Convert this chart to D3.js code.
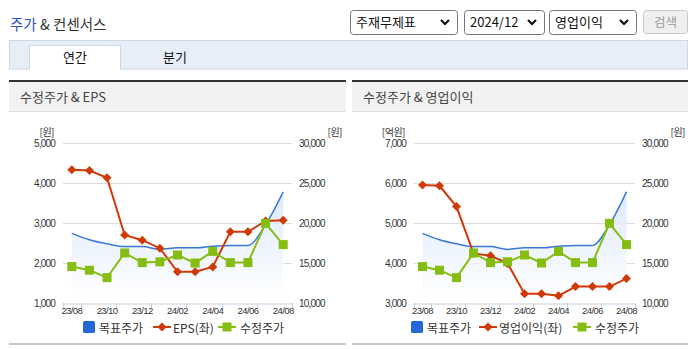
<!DOCTYPE html>
<html>
<head>
<meta charset="utf-8">
<script src="https://cdn.jsdelivr.net/npm/d3@7"></script>
<style>
  html, body { margin: 0; padding: 0; background: #fff; }
  svg { display: block; }
  text { font-family: "Noto Sans CJK KR", "Noto Sans", sans-serif; }
  .num { font-family: "Liberation Sans", Arial, sans-serif; }
</style>
</head>
<body>
<svg id="page" width="695" height="349"></svg>
<script>
// Monthly categories shown on both charts
const months = ["23/08","23/09","23/10","23/11","23/12","24/01","24/02","24/03","24/04","24/05","24/06","24/07","24/08"];
const monthLabels = ["23/08","23/10","23/12","24/02","24/04","24/06","24/08"];

// Series (원 / 억원)
const targetPrice = [18700, 17900, 17400, 17050, 17050, 16700, 16900, 16900, 17100, 17200, 17200, 19800, 23900];
const adjPrice    = [14550, 14100, 13170, 16250, 15050, 15150, 16000, 15000, 16450, 15050, 15050, 19950, 17300];
const eps         = [4330, 4310, 4130, 2700, 2570, 2370, 1780, 1780, 1900, 2780, 2780, 3050, 3070];
const opIncome    = [5950, 5930, 5410, 4240, 4180, 3990, 3230, 3230, 3180, 3410, 3410, 3410, 3610];

// Axis ticks
const priceTicks  = [10000, 15000, 20000, 25000, 30000];
const epsTicks    = [1000, 2000, 3000, 4000, 5000];
const opTicks     = [3000, 4000, 5000, 6000, 7000];

// Page controls
const selectLabels = ["주재무제표", "2024/12", "영업이익"];
const tabLabels = ["연간", "분기"];

const C = {
  blue: "#3a78d8", blueLegend: "#2467d6",
  red: "#cf3a08", green: "#86bd12",
  grid: "#dcdcdc", axis: "#c4cfdc", text: "#333"
};

const svg = d3.select("#page");
svg.append("rect").attr("width", 695).attr("height", 349).attr("fill", "#fff");

const defs = svg.append("defs");
const grad = defs.append("linearGradient").attr("id", "areaGrad")
  .attr("x1", 0).attr("y1", 0).attr("x2", 0).attr("y2", 1);
grad.append("stop").attr("offset", "0%").attr("stop-color", "#d9e7fa");
grad.append("stop").attr("offset", "100%").attr("stop-color", "#ffffff");

// ---- page title ----
const title = svg.append("text").attr("x", 10).attr("y", 30).attr("font-size", 14.5);
title.append("tspan").attr("fill", "#2d55c4").text("주가");
title.append("tspan").attr("fill", "#333").text(" & 컨센서스");

// ---- select boxes + button ----
const selects = [[350, 107], [464, 80], [549, 87]];
selects.forEach(([x, w], i) => {
  const g = svg.append("g").attr("transform", `translate(${x},10)`);
  g.append("rect").attr("x", 0.5).attr("y", 0.5).attr("width", w).attr("height", 24)
    .attr("rx", 3).attr("fill", "#fff").attr("stroke", "#777");
  g.append("text").attr("x", 6).attr("y", 17).attr("font-size", 13).attr("fill", "#111")
    .text(selectLabels[i]);
  g.append("path").attr("d", `M${w - 16},10 l4,4 l4,-4`).attr("fill", "none")
    .attr("stroke", "#111").attr("stroke-width", 2.2);
});
svg.append("rect").attr("x", 643.5).attr("y", 10.5).attr("width", 44).attr("height", 23)
  .attr("rx", 3).attr("fill", "#efefef").attr("stroke", "#c8c8c8");
svg.append("text").attr("x", 665.5).attr("y", 27).attr("text-anchor", "middle")
  .attr("font-size", 12.5).attr("fill", "#999").text("검색");

// ---- tab bar ----
svg.append("rect").attr("x", 9.5).attr("y", 40.5).attr("width", 678).attr("height", 28.5)
  .attr("fill", "#e8eef8").attr("stroke", "#d0d8e4");
svg.append("path").attr("d", "M29.5,69.5 V45.5 H120.5 V69.5").attr("fill", "#fff").attr("stroke", "#d0d8e4");
svg.append("rect").attr("x", 30).attr("y", 46).attr("width", 90).attr("height", 24).attr("fill", "#fff");
svg.append("text").attr("x", 75).attr("y", 62).attr("text-anchor", "middle").attr("font-size", 13)
  .attr("fill", "#111").text(tabLabels[0]);
svg.append("text").attr("x", 175).attr("y", 62).attr("text-anchor", "middle").attr("font-size", 13)
  .attr("fill", "#111").text(tabLabels[1]);

// ---- chart panels ----
function drawPanel(cfg) {
  const g = svg.append("g");
  const { px0, px1, plotL, plotR } = cfg;
  const top = 143, bottom = 303;

  // panel frame
  g.append("rect").attr("x", px0).attr("y", 80).attr("width", px1 - px0).attr("height", 2).attr("fill", "#333");
  g.append("rect").attr("x", px0).attr("y", 82).attr("width", px1 - px0).attr("height", 30).attr("fill", "#f2f2f2");
  g.append("rect").attr("x", px0).attr("y", 111).attr("width", px1 - px0).attr("height", 1).attr("fill", "#dddddd");
  g.append("rect").attr("x", px0).attr("y", 343).attr("width", px1 - px0).attr("height", 2).attr("fill", "#c8c8c8");
  g.append("text").attr("x", px0 + 11).attr("y", 102).attr("font-size", 13).attr("fill", "#444").text(cfg.title);

  const x = d3.scaleBand().domain(months).range([plotL, plotR]);
  const cx = m => x(m) + x.bandwidth() / 2;
  const yL = d3.scaleLinear().domain(d3.extent(cfg.leftTicks)).range([bottom, top]);
  const yR = d3.scaleLinear().domain(d3.extent(priceTicks)).range([bottom, top]);

  // gridlines
  g.selectAll(".grid").data(cfg.leftTicks.slice(1)).join("line")
    .attr("x1", plotL).attr("x2", plotR)
    .attr("y1", d => Math.round(yL(d)) + 0.5).attr("y2", d => Math.round(yL(d)) + 0.5)
    .attr("stroke", C.grid);

  // y axis labels
  const fmt = d3.format(",");
  g.selectAll(".yl").data(cfg.leftTicks).join("text")
    .attr("class", "num").attr("x", plotL - 8).attr("y", d => yL(d) + 3.5)
    .attr("text-anchor", "end").attr("font-size", 10).attr("letter-spacing", -0.8)
    .attr("fill", C.text).text(fmt);
  g.selectAll(".yr").data(priceTicks).join("text")
    .attr("class", "num").attr("x", plotR + 7).attr("y", d => yR(d) + 3.5)
    .attr("text-anchor", "start").attr("font-size", 10).attr("letter-spacing", -0.8)
    .attr("fill", C.text).text(fmt);
  g.append("text").attr("x", plotL - 9).attr("y", 136).attr("text-anchor", "end")
    .attr("font-size", 10).attr("fill", C.text).attr("letter-spacing", -0.5).text(cfg.leftUnit);
  g.append("text").attr("x", cfg.rightUnitX).attr("y", 136).attr("text-anchor", "end")
    .attr("font-size", 10).attr("fill", C.text).attr("letter-spacing", -0.5).text("[원]");

  // x axis
  const xAxis = d3.axisBottom(x).tickValues(monthLabels).tickSize(0).tickPadding(4);
  const ax = g.append("g").attr("transform", `translate(0,${bottom + 0.5})`).call(xAxis);
  ax.select(".domain").attr("stroke", C.axis);
  ax.selectAll("text").attr("class", "num").attr("font-size", 9.5).attr("letter-spacing", -0.6)
    .attr("fill", C.text).attr("font-family", "Liberation Sans, Arial, sans-serif");
  const tickIdx = [0, 1, 3, 5, 7, 9, 11, 13];
  g.selectAll(".xt").data(tickIdx).join("line")
    .attr("x1", i => Math.round(plotL + i * x.step()) + 0.5)
    .attr("x2", i => Math.round(plotL + i * x.step()) + 0.5)
    .attr("y1", bottom).attr("y2", bottom + 5).attr("stroke", C.axis);

  // target price area + line
  const tp = months.map((m, i) => [cx(m), yR(targetPrice[i])]);
  g.append("path").datum(tp)
    .attr("d", d3.area().x(d => d[0]).y0(bottom - 4).y1(d => d[1]).curve(d3.curveMonotoneX))
    .attr("fill", "url(#areaGrad)").attr("opacity", 0.9);
  g.append("path").datum(tp)
    .attr("d", d3.line().curve(d3.curveMonotoneX))
    .attr("fill", "none").attr("stroke", C.blue).attr("stroke-width", 1.5);

  // left-axis series (red, diamonds)
  const lp = months.map((m, i) => [cx(m), yL(cfg.leftSeries[i])]);
  g.append("path").datum(lp).attr("d", d3.line())
    .attr("fill", "none").attr("stroke", C.red).attr("stroke-width", 2);
  g.selectAll(".dm").data(lp).join("path")
    .attr("d", d => `M${d[0]},${d[1] - 4.5} l4.5,4.5 l-4.5,4.5 l-4.5,-4.5 Z`)
    .attr("fill", C.red);

  // adjusted price (green, squares)
  const gp = months.map((m, i) => [cx(m), yR(adjPrice[i])]);
  g.append("path").datum(gp).attr("d", d3.line())
    .attr("fill", "none").attr("stroke", C.green).attr("stroke-width", 2);
  g.selectAll(".sq").data(gp).join("rect")
    .attr("x", d => d[0] - 4.5).attr("y", d => d[1] - 4.5)
    .attr("width", 9).attr("height", 9).attr("fill", C.green);

  // legend
  const L = cfg.legend, ly = 327, ty = 332.5, fs = 12;
  g.append("rect").attr("x", L[0]).attr("y", ly - 6).attr("width", 12).attr("height", 12)
    .attr("rx", 1.5).attr("fill", C.blueLegend);
  g.append("text").attr("x", L[0] + 16).attr("y", ty).attr("font-size", fs)
    .attr("fill", C.text).text("목표주가");
  g.append("line").attr("x1", L[1]).attr("x2", L[1] + 18).attr("y1", ly).attr("y2", ly)
    .attr("stroke", C.red).attr("stroke-width", 2);
  g.append("path").attr("d", `M${L[1] + 9},${ly - 4.5} l4.5,4.5 l-4.5,4.5 l-4.5,-4.5 Z`).attr("fill", C.red);
  g.append("text").attr("x", L[1] + 20).attr("y", ty).attr("font-size", fs)
    .attr("fill", C.text).text(cfg.leftName);
  g.append("line").attr("x1", L[2]).attr("x2", L[2] + 18).attr("y1", ly).attr("y2", ly)
    .attr("stroke", C.green).attr("stroke-width", 2);
  g.append("rect").attr("x", L[2] + 4.5).attr("y", ly - 4.5).attr("width", 9).attr("height", 9).attr("fill", C.green);
  g.append("text").attr("x", L[2] + 22).attr("y", ty).attr("font-size", fs)
    .attr("fill", C.text).text("수정주가");
}

drawPanel({
  px0: 9, px1: 346, plotL: 63, plotR: 292, title: "수정주가 & EPS",
  leftTicks: epsTicks, leftSeries: eps, leftUnit: "[원]", leftName: "EPS(좌)",
  rightUnitX: 342, legend: [83, 153, 218]
});
drawPanel({
  px0: 352, px1: 688, plotL: 414, plotR: 635, title: "수정주가 & 영업이익",
  leftTicks: opTicks, leftSeries: opIncome, leftUnit: "[억원]", leftName: "영업이익(좌)",
  rightUnitX: 685, legend: [411, 479, 573]
});
</script>
</body>
</html>
